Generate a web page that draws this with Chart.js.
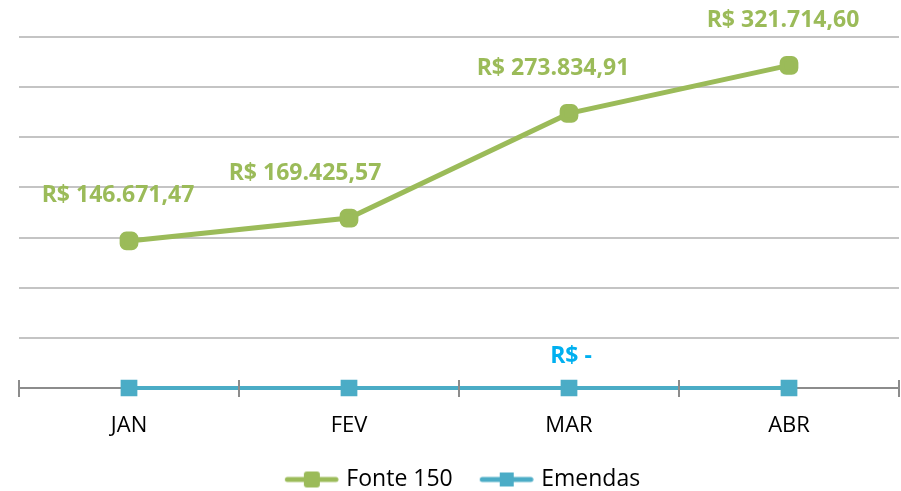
<!DOCTYPE html>
<html>
<head>
<meta charset="utf-8">
<script src="https://cdn.jsdelivr.net/npm/chart.js@4"></script>
<style>
  html, body { margin: 0; padding: 0; background: #fff; overflow: hidden; }
  canvas { display: block; }
</style>
</head>
<body>
<canvas id="c" width="901" height="491"></canvas>
<script>
const months = ['JAN', 'FEV', 'MAR', 'ABR'];
const fonte150 = [146671.47, 169425.57, 273834.91, 321714.60];
const emendas = [0, 0, 0, 0];
const yTicks = [0, 50000, 100000, 150000, 200000, 250000, 300000, 350000];

// where the value labels sit relative to their points (Excel had them nudged by hand)
const fonteLabelShift = [-11, -44, -16, -6];
const emendasLabelAt = [2];

const GREEN = '#9BBB59';
const TEAL = '#4BACC6';

function brl(v) {
    if (v === 0) return 'R$ -';
    const parts = v.toFixed(2).split('.');
    return 'R$ ' + parts[0].replace(/\B(?=(\d{3})+(?!\d))/g, '.') + ',' + parts[1];
}

// legend icon: short line with the marker in the middle
function legendIcon(color, rounded) {
    const cv = document.createElement('canvas');
    cv.width = 65; cv.height = 20;
    const g = cv.getContext('2d');
    g.strokeStyle = color; g.lineWidth = 5; g.lineCap = 'round';
    g.beginPath(); g.moveTo(13.5, 10); g.lineTo(62, 10); g.stroke();
    g.fillStyle = color;
    g.beginPath();
    if (rounded) g.roundRect(30, 2, 16, 16, 3); else g.rect(31, 3, 14, 14);
    g.fill();
    return cv;
}

const axisTicks = {
    id: 'axisTicks',
    afterDatasetsDraw(chart) {
        const x = chart.scales.x, ctx = chart.ctx;
        const half = (x.getPixelForValue(1) - x.getPixelForValue(0)) / 2;
        const y = chart.chartArea.bottom;
        ctx.save();
        ctx.strokeStyle = '#8C8C8C';
        ctx.lineWidth = 2;
        for (let i = 0; i <= months.length; i++) {
            const px = Math.round(x.getPixelForValue(0) - half + i * half * 2);
            ctx.beginPath(); ctx.moveTo(px, y - 8); ctx.lineTo(px, y + 9); ctx.stroke();
        }
        ctx.restore();
    }
};

const valueLabels = {
    id: 'valueLabels',
    afterDatasetsDraw(chart) {
        const ctx = chart.ctx;
        ctx.save();
        ctx.font = 'bold 23px "Open Sans"';
        ctx.textAlign = 'center';
        ctx.textBaseline = 'middle';
        chart.getDatasetMeta(0).data.forEach((p, i) => {
            ctx.fillStyle = GREEN;
            ctx.fillText(brl(fonte150[i]), p.x + fonteLabelShift[i], p.y - 45);
        });
        chart.getDatasetMeta(1).data.forEach((p, i) => {
            if (!emendasLabelAt.includes(i)) return;
            ctx.fillStyle = '#00B0F0';
            ctx.fillText(brl(emendas[i]), p.x + 2, p.y - 32);
        });
        ctx.restore();
    }
};

new Chart(document.getElementById('c'), {
    type: 'line',
    data: {
        labels: months,
        datasets: [{
            label: 'Fonte 150',
            data: fonte150,
            borderColor: GREEN,
            backgroundColor: GREEN,
            borderWidth: 5,
            pointStyle: 'rectRounded',
            pointRadius: 8,
            pointHoverRadius: 8,
            clip: false,
            tension: 0
        }, {
            label: 'Emendas',
            data: emendas,
            borderColor: TEAL,
            backgroundColor: TEAL,
            borderWidth: 4,
            pointStyle: 'rect',
            pointRadius: 9,
            pointHoverRadius: 9,
            clip: false,
            tension: 0
        }]
    },
    options: {
        responsive: false,
        animation: false,
        devicePixelRatio: 1,
        layout: { autoPadding: false, padding: { left: 19, right: 2, top: 37, bottom: -10 } },
        scales: {
            x: {
                offset: true,
                grid: { display: false, drawTicks: false },
                border: { display: true, color: '#8C8C8C', width: 2 },
                ticks: { padding: 25, color: '#000', font: { family: 'Open Sans', size: 22 } },
                afterFit(s) { s.height = 60; }
            },
            y: {
                min: 0,
                max: 350000,
                afterBuildTicks(s) { s.ticks = yTicks.map(v => ({ value: v })); },
                ticks: { display: false },
                border: { display: false },
                grid: { drawTicks: false, color: '#C4C4C4', lineWidth: 2 }
            }
        },
        plugins: {
            tooltip: { enabled: false },
            legend: {
                position: 'bottom',
                labels: {
                    usePointStyle: true,
                    pointStyleWidth: 57,
                    color: '#000',
                    padding: 20,
                    font: { family: 'Open Sans', size: 23 },
                    generateLabels(chart) {
                        return chart.data.datasets.map((d, i) => ({
                            text: d.label,
                            datasetIndex: i,
                            pointStyle: legendIcon(d.borderColor, i === 0),
                            fillStyle: d.borderColor,
                            strokeStyle: d.borderColor,
                            lineWidth: 0,
                            fontColor: '#000'
                        }));
                    }
                }
            }
        }
    },
    plugins: [axisTicks, valueLabels]
});
</script>
</body>
</html>
